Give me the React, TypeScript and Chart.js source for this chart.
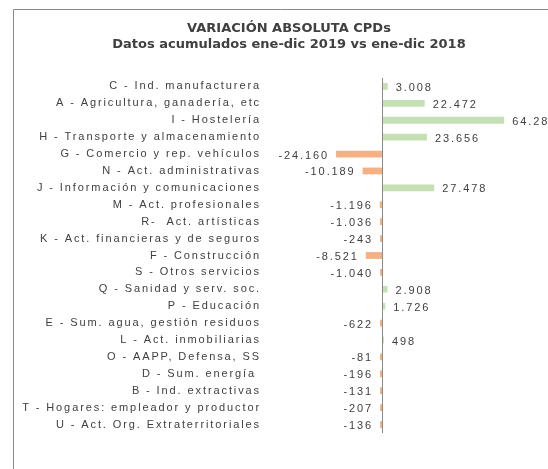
import React, { useEffect, useRef } from 'react';
import { Chart, registerables } from 'chart.js';

Chart.register(...registerables);

const titleLines = ['VARIACIÓN ABSOLUTA CPDs', 'Datos acumulados ene-dic 2019 vs ene-dic 2018'];

const categories = [
  'C - Ind. manufacturera',
  'A - Agricultura, ganadería, etc',
  'I - Hostelería',
  'H - Transporte y almacenamiento',
  'G - Comercio y rep. vehículos',
  'N - Act. administrativas',
  'J - Información y comunicaciones',
  'M - Act. profesionales',
  'R-  Act. artísticas',
  'K - Act. financieras y de seguros',
  'F - Construcción',
  'S - Otros servicios',
  'Q - Sanidad y serv. soc.',
  'P - Educación',
  'E - Sum. agua, gestión residuos',
  'L - Act. inmobiliarias',
  'O - AAPP, Defensa, SS',
  'D - Sum. energía ',
  'B - Ind. extractivas',
  'T - Hogares: empleador y productor',
  'U - Act. Org. Extraterritoriales',
];

const values = [
  3008, 22472, 64281, 23656, -24160, -10189, 27478, -1196, -1036, -243, -8521,
  -1040, 2908, 1726, -622, 498, -81, -196, -131, -207, -136,
];

const POS_COLOR = '#C5E0B4';
const NEG_COLOR = '#F4B183';
const TEXT_COLOR = '#404040';
const TITLE_FONT = 'DejaVu Sans';
const FONT = 'Liberation Sans';
const SPACING = '1.9px';

function fmt(v: number): string {
  const s = Math.abs(v).toString().replace(/\B(?=(\d{3})+(?!\d))/g, '.');
  return (v < 0 ? '-' : '') + s;
}

export default function App() {
  const ref = useRef<HTMLCanvasElement>(null);

  useEffect(() => {
    if (!ref.current) return;

    const frame = {
      id: 'frame',
      afterLayout(chart: any) {
        // centre the title over the plot region as in the original
        if (chart.titleBlock) chart.titleBlock.left = 30;
      },
      beforeDraw(chart: any) {
        const ctx = chart.ctx;
        ctx.letterSpacing = '0px';
        ctx.save();
        ctx.strokeStyle = '#8a8a8a';
        ctx.lineWidth = 1;
        ctx.beginPath();
        ctx.moveTo(13.5, chart.height);
        ctx.lineTo(13.5, 9.5);
        ctx.lineTo(chart.width, 9.5);
        ctx.stroke();
        ctx.restore();
      },
      afterDatasetsDraw(chart: any) {
        const ctx = chart.ctx;
        const xs = chart.scales.x;
        const area = chart.chartArea;
        const x0 = Math.round(xs.getPixelForValue(0)) + 0.5;
        ctx.save();
        ctx.strokeStyle = '#8a8a8a';
        ctx.lineWidth = 1;
        ctx.beginPath();
        ctx.moveTo(x0, area.top);
        ctx.lineTo(x0, area.bottom);
        ctx.stroke();
        ctx.restore();

        ctx.letterSpacing = SPACING;
        ctx.save();
        ctx.font = `11px "${FONT}"`;
        ctx.fillStyle = TEXT_COLOR;
        ctx.textBaseline = 'middle';
        const meta = chart.getDatasetMeta(0);
        meta.data.forEach((bar: any, i: number) => {
          const v = values[i];
          if (v >= 0) {
            ctx.textAlign = 'left';
            ctx.fillText(fmt(v), bar.x + 8, bar.y + 1.5);
          } else {
            ctx.textAlign = 'right';
            ctx.fillText(fmt(v), bar.x - 7, bar.y + 1.5);
          }
        });
        ctx.restore();
        ctx.letterSpacing = SPACING;
      },
    };

    const chart = new Chart(ref.current, {
      type: 'bar',
      data: {
        labels: categories,
        datasets: [
          {
            data: values,
            backgroundColor: values.map((v) => (v >= 0 ? POS_COLOR : NEG_COLOR)),
            borderWidth: 0,
            barPercentage: 0.4,
            categoryPercentage: 1,
            minBarLength: 2,
          },
        ],
      },
      options: {
        indexAxis: 'y',
        responsive: false,
        animation: false,
        devicePixelRatio: 1,
        layout: { padding: { left: 14, right: 0, top: 0, bottom: 36 } },
        plugins: {
          legend: { display: false },
          tooltip: { enabled: false },
          title: {
            display: true,
            text: titleLines,
            color: TEXT_COLOR,
            font: { family: TITLE_FONT, size: 13, weight: 'bold', lineHeight: 1.23 },
            padding: { top: 21, bottom: 25 },
          },
        },
        scales: {
          x: {
            type: 'linear',
            display: false,
            min: -61560,
            max: 87340,
          },
          y: {
            type: 'category',
            position: 'left',
            afterFit(scale: any) {
              scale.width = 251;
            },
            grid: { display: false, drawTicks: false },
            border: { display: false },
            ticks: {
              z: 1,
              autoSkip: false,
              padding: 4,
              color: TEXT_COLOR,
              font: { family: FONT, size: 11 },
            },
          },
        },
      } as any,
      plugins: [frame],
    });

    return () => chart.destroy();
  }, []);

  return (
    <div style={{ position: 'absolute', left: 0, top: 0, width: 548, height: 469, background: '#fff' }}>
      <canvas ref={ref} width={548} height={469} style={{ display: 'block' }} />
    </div>
  );
}
